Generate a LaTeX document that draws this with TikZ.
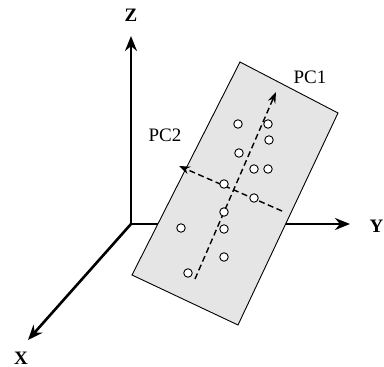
\documentclass[tikz,border=0pt]{standalone}
\usepackage{fontspec}
\setmainfont{Liberation Serif}
\usetikzlibrary{arrows.meta}
\definecolor{planefill}{gray}{0.9}
\tikzset{
  axis/.style={line width=2.6pt,-{Stealth[length=15pt,width=12pt]}},
  pcaxis/.style={line width=1.4pt,dash pattern=on 6pt off 3.5pt,-{Stealth[length=11pt,width=8pt]}},
  plane/.style={draw,line width=0.9pt,fill=planefill},
  pt/.style={circle,draw,line width=0.9pt,fill=white,inner sep=0pt,minimum size=8.5pt},
  axlabel/.style={font=\fontsize{19}{22}\selectfont\bfseries},
  pclabel/.style={font=\fontsize{19}{22}\selectfont}
}
\begin{document}
\begin{tikzpicture}[x=1pt,y=-1pt]
\useasboundingbox (0,0) rectangle (384,367);
% axes
\coordinate (O) at (131,224);
\coordinate (Zt) at (131,36);
\coordinate (Yt) at (350,224);
\coordinate (Xt) at (28,340);
\draw[axis] (O) -- (Zt);
\draw[axis] (O) -- (Yt);
\draw[axis] (O) -- (Xt);
\node[axlabel] (Z) at (131,15) {Z};
\node[axlabel,anchor=west,inner sep=0pt] (Y) at (369.5,226) {Y};
\node[axlabel] (X) at (21,358) {X};
% plane
\coordinate (P1) at (240,62);
\coordinate (P2) at (338,113);
\coordinate (P3) at (238,325);
\coordinate (P4) at (132,275);
\draw[plane] (P1) -- (P2) -- (P3) -- (P4) -- cycle;
% principal components
\coordinate (A1) at (195,279);
\coordinate (B1) at (276,92);
\coordinate (A2) at (282,211);
\coordinate (B2) at (179,166);
\draw[pcaxis] (A1) -- (B1);
\draw[pcaxis] (A2) -- (B2);
\node[pclabel] (PC1) at (310,77) {PC1};
\node[pclabel] (PC2) at (165,135) {PC2};
% data points
\foreach \n/\x/\y in {a/238/124,b/268/124,c/269/140,d/239/153,e/254/169,f/268/169,g/224/184,h/254/198,i/224/212,j/181/228,k/224/229,l/224/257,m/188/273}
  \node[pt] (\n) at (\x,\y) {};
\end{tikzpicture}
\end{document}
